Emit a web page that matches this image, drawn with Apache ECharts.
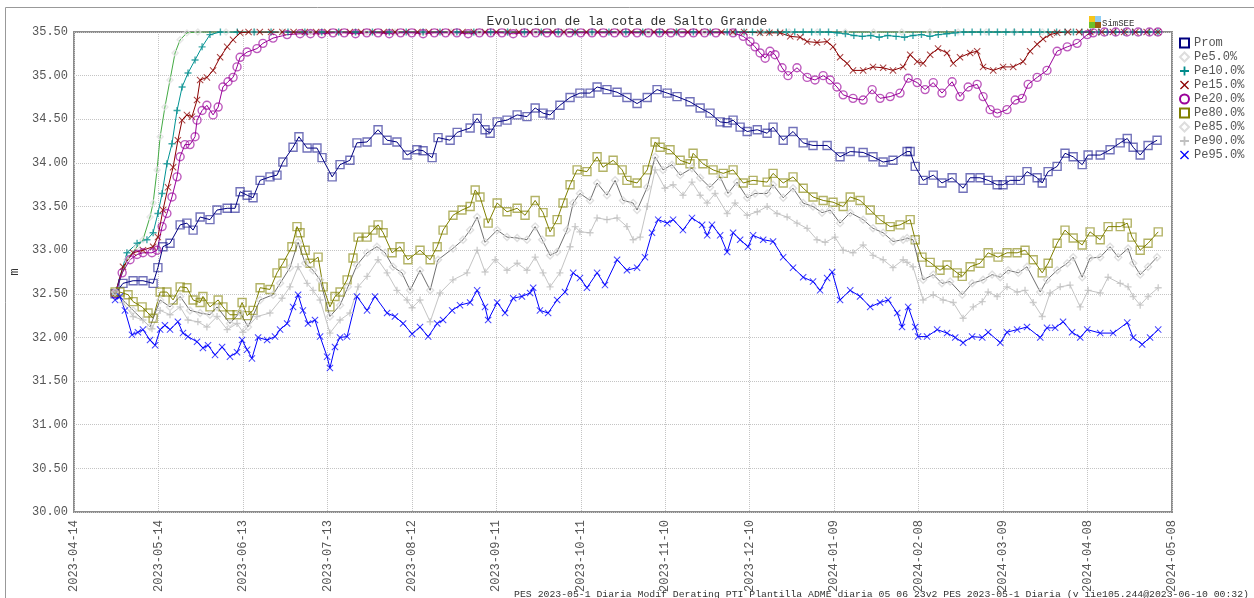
<!DOCTYPE html>
<html>
<head>
<meta charset="utf-8">
<title>Evolucion de la cota de Salto Grande</title>
<script src="https://cdn.jsdelivr.net/npm/echarts@6.0.0/dist/echarts.min.js"></script>
<style>
  html, body { margin: 0; padding: 0; background: #fff; }
  #chart { width: 1254px; height: 598px; }
</style>
</head>
<body>
<div id="chart"></div>
<script>
// x tick labels, one every 30 days from 2023-04-14 (x values are days after 2023-04-14)
const tickLabels = ['2023-04-14', '2023-05-14', '2023-06-13', '2023-07-13', '2023-08-12', '2023-09-11', '2023-10-11',
  '2023-11-10', '2023-12-10', '2024-01-09', '2024-02-08', '2024-03-09', '2024-04-08', '2024-05-08'];

// [day, level m]
const prom = [[14.6,32.50],[17.4,32.62],[21.0,32.65],[24.5,32.65],[28.1,32.62],[29.8,32.80],[31.6,33.04],[34.1,33.08],
  [37.7,33.29],[40.1,33.31],[42.3,33.23],[44.8,33.38],[48.3,33.35],[50.8,33.46],[54.4,33.48],[57.2,33.48],[59.0,33.67],
  [61.5,33.63],[63.6,33.60],[66.1,33.80],[69.6,33.84],[72.1,33.86],[74.2,34.01],[77.8,34.18],[79.9,34.30],[82.8,34.17],
  [86.3,34.17],[88.1,34.06],[91.7,33.84],[94.5,33.98],[98.0,34.03],[100.5,34.23],[104.1,34.24],[108.0,34.38],[111.2,34.26],
  [114.7,34.24],[118.3,34.09],[121.8,34.15],[124.0,34.14],[127.2,34.06],[129.3,34.29],[133.6,34.26],[136.1,34.35],
  [140.7,34.40],[143.2,34.51],[146.0,34.38],[147.8,34.34],[150.3,34.47],[153.8,34.49],[157.4,34.55],[160.9,34.53],
  [163.8,34.63],[166.6,34.57],[169.1,34.55],[172.6,34.66],[176.2,34.75],[179.7,34.80],[183.3,34.80],[185.8,34.87],
  [189.3,34.84],[192.9,34.81],[196.4,34.75],[200.0,34.68],[203.6,34.75],[207.1,34.84],[210.7,34.80],[214.2,34.76],
  [218.8,34.70],[222.4,34.63],[225.9,34.57],[229.5,34.47],[232.0,34.46],[234.1,34.49],[236.6,34.41],[239.1,34.36],
  [242.7,34.38],[246.2,34.34],[248.3,34.41],[251.9,34.26],[255.4,34.36],[259.0,34.23],[262.5,34.20],[267.5,34.20],
  [272.1,34.07],[275.7,34.13],[280.3,34.12],[283.8,34.07],[287.4,34.01],[290.9,34.03],[295.9,34.13],[297.0,34.13],
  [298.8,33.96],[301.6,33.80],[305.2,33.86],[308.3,33.77],[311.9,33.83],[315.8,33.71],[318.3,33.83],[321.8,33.83],
  [324.7,33.80],[327.9,33.75],[330.0,33.75],[332.5,33.80],[336.1,33.80],[338.5,33.90],[342.1,33.83],[343.9,33.77],
  [346.0,33.90],[349.2,33.96],[352.0,34.11],[354.9,34.07],[358.1,33.98],[360.2,34.09],[364.5,34.09],[368.0,34.15],
  [371.6,34.23],[374.1,34.28],[376.2,34.18],[378.7,34.09],[381.5,34.20],[384.7,34.26]];

const pe5 = [[14.6,32.50],[18.8,32.89],[22.4,33.04],[24.5,33.12],[27.0,33.38],[28.1,33.54],[29.5,33.92],[30.6,34.30],
  [32.3,34.64],[34.1,34.95],[35.9,35.26],[37.7,35.41],[40.1,35.49],[44,35.5],[54,35.5],[64,35.5],[74,35.5],[84,35.5],
  [94,35.5],[104,35.5],[114,35.5],[124,35.5],[134,35.5],[144,35.5],[154,35.5],[164,35.5],[174,35.5],[184,35.5],
  [194,35.5],[204,35.5],[214,35.5],[224,35.5],[234,35.5],[244,35.5],[254,35.5],[264,35.5],[274,35.5],[284,35.5],
  [294,35.5],[304,35.5],[314,35.5],[324,35.5],[334,35.5],[344,35.5],[354,35.5],[364,35.5],[374,35.5],[384,35.5]];

const pe10 = [[14.6,32.50],[18.8,32.97],[22.4,33.08],[25.9,33.12],[28.1,33.20],[29.8,33.42],[31.3,33.65],[33.0,33.99],
  [34.8,34.22],[36.6,34.60],[38.4,34.87],[40.5,35.03],[43.0,35.18],[45.5,35.33],[48.3,35.47],[52,35.5],[58,35.5],
  [64,35.5],[70,35.5],[76,35.5],[82,35.5],[88,35.5],[94,35.5],[100,35.5],[106,35.5],[112,35.5],[118,35.5],[124,35.5],
  [130,35.5],[136,35.5],[142,35.5],[148,35.5],[154,35.5],[160,35.5],[166,35.5],[172,35.5],[178,35.5],[184,35.5],
  [190,35.5],[196,35.5],[202,35.5],[208,35.5],[214,35.5],[220,35.5],[226,35.5],[232,35.5],[235,35.5],[238,35.5],
  [241,35.5],[244,35.5],[247,35.5],[250,35.5],[253,35.5],[256,35.5],[259,35.5],[262,35.5],[265,35.5],[268,35.5],
  [271,35.49],[274,35.48],[277,35.46],[280,35.45],[283,35.46],[286,35.44],[289,35.46],[292,35.45],[295,35.44],
  [298,35.46],[301,35.47],[304,35.45],[307,35.47],[310,35.48],[313,35.49],[316,35.5],[319,35.5],[322,35.5],[325,35.5],
  [328,35.5],[331,35.5],[334,35.5],[337,35.5],[340,35.5],[343,35.5],[346,35.5],[349,35.5],[352,35.5],[355,35.5],
  [358,35.5],[361,35.5],[364,35.5],[367,35.5],[370,35.5],[373,35.5],[376,35.5],[379,35.5],[382,35.5],[385,35.5]];

const pe15 = [[14.6,32.50],[17.4,32.81],[21.0,32.97],[24.5,33.00],[28.1,33.04],[29.8,33.15],[31.6,33.46],[33.4,33.72],
  [35.2,33.95],[36.9,34.26],[38.4,34.49],[40.1,34.55],[41.9,34.53],[43.7,34.72],[44.8,34.95],[47.2,34.98],[49.4,35.06],
  [51.9,35.21],[54.4,35.33],[56.5,35.41],[59.0,35.49],[62,35.5],[66,35.5],[70,35.5],[74,35.5],[78,35.5],[82,35.5],
  [86,35.5],[90,35.5],[94,35.5],[98,35.5],[102,35.5],[106,35.5],[110,35.5],[114,35.5],[118,35.5],[122,35.5],[126,35.5],
  [130,35.5],[134,35.5],[138,35.5],[142,35.5],[146,35.5],[150,35.5],[154,35.5],[158,35.5],[162,35.5],[166,35.5],
  [170,35.5],[174,35.5],[178,35.5],[182,35.5],[186,35.5],[190,35.5],[194,35.5],[198,35.5],[202,35.5],[206,35.5],
  [210,35.5],[214,35.5],[218,35.5],[222,35.5],[226,35.5],[230,35.5],[234,35.5],[238,35.5],[243.7,35.49],[247.0,35.49],
  [250.8,35.49],[254.4,35.45],[257.9,35.44],[260.4,35.39],[263.9,35.38],[267.5,35.39],[269.6,35.33],[272.1,35.21],
  [274.6,35.14],[276.7,35.06],[280.3,35.06],[283.8,35.10],[287.4,35.09],[290.9,35.06],[294.5,35.10],[297.0,35.24],
  [299.5,35.16],[301.6,35.14],[304.1,35.24],[306.9,35.31],[310.1,35.26],[312.3,35.14],[314.7,35.21],[318.3,35.26],
  [320.8,35.28],[322.9,35.10],[326.5,35.06],[330.0,35.10],[333.6,35.10],[337.1,35.16],[339.6,35.28],[342.1,35.36],
  [344.2,35.42],[346.7,35.47],[349.2,35.49],[353,35.5],[357,35.5],[361,35.5],[365,35.5],[369,35.5],[373,35.5],
  [377,35.5],[381,35.5],[385,35.5]];

const pe20 = [[14.6,32.50],[17.1,32.74],[19.9,32.89],[22.4,32.95],[24.5,32.97],[27.7,32.97],[29.5,33.00],[31.3,33.27],
  [33.0,33.42],[34.8,33.61],[36.6,33.84],[37.7,34.07],[39.4,34.21],[41.2,34.21],[43.0,34.30],[43.7,34.49],[45.5,34.60],
  [47.2,34.66],[49.4,34.55],[51.2,34.64],[52.9,34.87],[54.7,34.93],[56.5,34.98],[57.9,35.10],[59.0,35.21],[61.5,35.27],
  [65.0,35.31],[67.1,35.37],[70.7,35.43],[75.7,35.47],[80.3,35.48],[84,35.48],[88,35.48],[92.0,35.49],[96,35.49],
  [100,35.48],[104,35.49],[108,35.49],[112,35.48],[116,35.49],[120,35.49],[124,35.48],[128,35.49],[132,35.49],
  [136,35.49],[140,35.48],[144,35.49],[148,35.49],[152,35.49],[156,35.48],[160,35.49],[164,35.49],[168,35.49],
  [172,35.49],[176,35.49],[180,35.49],[184,35.49],[188,35.49],[192,35.49],[196,35.49],[200,35.49],[204,35.49],
  [208,35.49],[212,35.49],[216,35.49],[220,35.49],[224,35.49],[228,35.49],[234.1,35.49],[237.7,35.45],[240.1,35.39],
  [241.9,35.33],[243.7,35.26],[245.5,35.20],[247.2,35.28],[249.0,35.24],[251.5,35.09],[253.6,35.00],[256.8,35.09],
  [260.4,34.98],[263.2,34.95],[266.1,35.00],[268.6,34.95],[271.0,34.87],[273.2,34.78],[276.7,34.74],[280.3,34.72],
  [283.5,34.84],[286.3,34.74],[289.9,34.76],[293.4,34.80],[296.3,34.97],[299.5,34.92],[302.3,34.84],[305.2,34.92],
  [308.3,34.80],[311.9,34.93],[314.7,34.76],[317.6,34.87],[320.8,34.90],[322.9,34.76],[325.4,34.61],[327.9,34.57],
  [331.4,34.61],[334.3,34.72],[336.8,34.74],[338.9,34.90],[342.1,34.98],[345.6,35.06],[349.2,35.28],[352.8,35.33],
  [356.3,35.37],[359.9,35.47],[362.0,35.49],[366,35.5],[370,35.5],[374,35.5],[378,35.5],[382,35.5],[385,35.5]];

const pe80 = [[14.6,32.52],[16.3,32.52],[19.2,32.49],[21.0,32.41],[24.2,32.35],[26.3,32.28],[28.1,32.22],[30.6,32.52],
  [33.0,32.52],[35.2,32.43],[37.7,32.58],[40.1,32.57],[42.3,32.43],[44.8,32.40],[45.8,32.47],[48.3,32.35],[51.2,32.43],
  [52.9,32.35],[55.4,32.26],[57.9,32.26],[59.7,32.40],[61.5,32.25],[63.6,32.31],[66.1,32.57],[69.6,32.55],[72.1,32.74],
  [74.2,32.85],[77.4,33.04],[79.2,33.27],[80.3,33.20],[82.1,33.00],[83.8,32.85],[86.7,32.92],[88.5,32.58],[90.9,32.35],
  [92.7,32.47],[94.5,32.52],[97.0,32.66],[99.1,32.91],[100.9,33.15],[104.1,33.15],[106.2,33.23],[108.0,33.29],
  [109.8,33.20],[113.0,32.97],[115.8,33.04],[118.6,32.89],[122.9,33.00],[126.5,32.89],[129.0,33.04],[131.1,33.23],
  [134.6,33.40],[137.8,33.46],[140.7,33.50],[142.5,33.69],[144.2,33.61],[147.1,33.31],[150.3,33.54],[153.8,33.44],
  [157.4,33.48],[160.2,33.40],[163.8,33.57],[166.6,33.43],[169.1,33.21],[171.6,33.35],[173.7,33.54],[176.2,33.75],
  [178.7,33.92],[182.2,33.90],[185.8,34.07],[187.9,33.95],[191.5,34.03],[194.7,33.92],[196.4,33.80],[200.0,33.77],
  [203.6,33.92],[206.4,34.24],[208.2,34.18],[211.7,34.15],[215.3,34.03],[218.8,33.99],[219.9,34.11],[223.4,33.99],
  [227.0,33.92],[230.6,33.88],[234.1,33.92],[237.7,33.77],[241.2,33.80],[246.2,33.78],[248.3,33.88],[251.9,33.77],
  [255.4,33.84],[259.0,33.71],[262.5,33.61],[266.1,33.57],[269.6,33.55],[273.2,33.50],[275.7,33.61],[279.2,33.57],
  [282.8,33.46],[286.3,33.35],[289.9,33.27],[293.4,33.29],[297.0,33.35],[298.8,33.12],[301.2,32.92],[304.1,32.86],
  [307.6,32.77],[310.1,32.83],[313.7,32.74],[315.5,32.70],[318.3,32.81],[321.8,32.85],[324.7,32.97],[328.2,32.92],
  [331.4,32.97],[335.0,32.97],[337.8,33.00],[340.7,32.89],[343.9,32.74],[346.0,32.85],[349.2,33.08],[352.0,33.23],
  [354.9,33.14],[358.1,33.06],[360.9,33.21],[364.5,33.12],[367.3,33.27],[371.6,33.27],[374.1,33.31],[375.8,33.15],
  [378.7,33.00],[381.5,33.08],[385.1,33.21]];

const pe85 = [[14.6,32.52],[21.0,32.31],[27.0,32.12],[30.6,32.43],[34.1,32.35],[37.7,32.47],[41.2,32.31],[44.8,32.28],
  [48.3,32.26],[50.8,32.35],[55.4,32.16],[59.0,32.29],[61.8,32.12],[66.1,32.43],[70.7,32.49],[73.2,32.62],[76.7,32.80],
  [79.6,33.09],[82.1,32.85],[84.9,32.77],[87.4,32.66],[90.9,32.24],[94.5,32.37],[97.3,32.58],[100.5,32.83],[104.1,32.97],
  [107.6,33.04],[110.5,32.97],[113.3,32.81],[116.5,32.74],[119.4,32.54],[122.9,32.77],[126.5,32.54],[129.3,32.89],
  [134.6,33.02],[138.2,33.12],[140.7,33.23],[143.2,33.38],[146.0,33.09],[150.3,33.23],[153.8,33.15],[157.4,33.14],
  [160.9,33.12],[163.8,33.27],[166.3,33.12],[169.1,32.94],[171.6,32.98],[175.1,33.23],[177.3,33.54],[179.7,33.65],
  [183.3,33.57],[185.8,33.77],[189.3,33.63],[192.2,33.80],[195.0,33.57],[198.6,33.54],[200.0,33.46],[203.6,33.72],
  [206.4,34.07],[209.2,33.92],[212.4,33.98],[215.3,33.86],[219.5,33.94],[222.4,33.83],[225.9,33.72],[229.5,33.84],
  [232.3,33.65],[235.5,33.78],[239.1,33.60],[241.9,33.65],[246.2,33.65],[248.3,33.75],[251.9,33.60],[255.4,33.71],
  [259.0,33.54],[262.5,33.50],[265.7,33.43],[268.6,33.46],[272.1,33.31],[275.7,33.43],[280.3,33.35],[283.8,33.25],
  [287.4,33.20],[290.9,33.10],[294.5,33.12],[295.9,33.14],[298.0,33.12],[301.6,32.66],[305.2,32.72],[308.3,32.62],
  [311.2,32.64],[315.5,32.49],[319.0,32.62],[322.9,32.66],[326.1,32.72],[329.0,32.69],[331.8,32.77],[335.4,32.74],
  [338.5,32.81],[343.2,32.52],[345.6,32.66],[349.2,32.77],[352.8,32.85],[354.9,32.92],[358.1,32.69],[360.9,32.91],
  [364.5,32.92],[368.0,33.04],[370.9,32.92],[374.4,33.02],[376.2,32.85],[378.7,32.72],[381.5,32.81],[384.7,32.92]];

const pe90 = [[14.6,32.52],[17.4,32.40],[21.0,32.24],[24.5,32.20],[27.7,32.10],[30.6,32.31],[34.1,32.26],[37.7,32.35],
  [40.5,32.20],[44.0,32.18],[47.2,32.12],[50.8,32.24],[54.4,32.09],[57.9,32.16],[60.0,32.06],[65.0,32.24],[69.6,32.28],
  [73.9,32.45],[76.7,32.58],[79.6,32.81],[82.8,32.62],[84.9,32.54],[87.4,32.43],[90.9,32.05],[94.5,32.20],[98.0,32.28],
  [100.9,32.58],[104.1,32.70],[108.0,32.89],[111.2,32.74],[114.7,32.54],[118.3,32.43],[120.1,32.34],[122.9,32.43],
  [126.5,32.18],[130.0,32.51],[134.6,32.66],[139.6,32.74],[143.2,33.00],[146.0,32.75],[149.6,32.89],[153.8,32.77],
  [157.4,32.85],[160.9,32.77],[163.8,32.92],[166.6,32.74],[169.1,32.58],[172.6,32.74],[176.2,33.04],[178.0,33.27],
  [179.7,33.21],[183.3,33.20],[185.8,33.37],[189.3,33.35],[192.9,33.37],[196.4,33.27],[198.6,33.12],[201.1,33.15],
  [203.6,33.50],[206.4,33.92],[209.9,33.71],[212.8,33.75],[216.3,33.63],[219.5,33.78],[222.4,33.63],[224.9,33.54],
  [227.7,33.65],[232.0,33.42],[234.8,33.54],[239.1,33.40],[242.7,33.44],[246.2,33.50],[249.7,33.42],[253.3,33.38],
  [256.8,33.31],[260.4,33.25],[263.9,33.12],[266.8,33.09],[270.3,33.15],[273.2,33.00],[276.7,32.97],[280.3,33.06],
  [283.8,32.94],[287.4,32.89],[290.9,32.80],[294.5,32.89],[295.9,32.86],[298.0,32.81],[301.6,32.43],[305.2,32.49],
  [308.7,32.43],[312.3,32.40],[315.8,32.22],[319.4,32.35],[322.6,32.41],[324.7,32.52],[327.9,32.47],[331.4,32.58],
  [335.0,32.52],[337.8,32.54],[340.7,32.40],[343.9,32.24],[346.7,32.51],[350.3,32.58],[353.8,32.60],[357.4,32.35],
  [360.2,32.54],[364.5,32.51],[367.3,32.69],[371.6,32.62],[374.4,32.58],[376.2,32.47],[378.7,32.37],[381.5,32.47],
  [385.1,32.57]];

const pe95 = [[14.6,32.43],[16.3,32.47],[18.1,32.31],[20.6,32.03],[22.7,32.06],[24.5,32.09],[27.0,31.97],[28.8,31.91],
  [30.6,32.09],[32.3,32.14],[34.1,32.09],[36.9,32.18],[38.7,32.05],[40.5,32.01],[43.7,31.95],[45.8,31.88],[47.6,31.91],
  [50.1,31.80],[52.6,31.89],[55.4,31.78],[57.9,31.83],[59.7,31.97],[61.5,31.86],[63.2,31.76],[65.4,32.00],[68.6,31.97],
  [71.4,32.01],[73.2,32.09],[75.7,32.16],[77.8,32.35],[79.6,32.49],[81.3,32.31],[83.1,32.16],[85.6,32.20],[87.4,32.01],
  [89.9,31.78],[90.9,31.65],[92.7,31.89],[94.5,32.00],[97.0,32.01],[100.5,32.47],[104.1,32.31],[106.9,32.47],
  [111.2,32.28],[114.0,32.24],[116.9,32.16],[120.1,32.04],[122.9,32.12],[125.8,32.01],[129.0,32.16],[131.1,32.20],
  [134.3,32.31],[137.1,32.37],[140.7,32.40],[143.2,32.54],[146.0,32.35],[147.1,32.20],[150.3,32.40],[153.1,32.28],
  [156.0,32.45],[159.1,32.47],[162.0,32.51],[163.1,32.57],[165.5,32.31],[168.4,32.28],[171.6,32.43],[174.4,32.52],
  [177.3,32.74],[179.7,32.68],[182.2,32.57],[185.8,32.74],[188.6,32.60],[192.9,32.89],[196.4,32.77],[200.0,32.80],
  [202.8,32.92],[205.3,33.20],[207.5,33.35],[210.7,33.31],[212.8,33.35],[216.3,33.23],[219.5,33.37],[223.1,33.29],
  [224.9,33.17],[226.6,33.29],[229.5,33.17],[232.0,32.98],[234.1,33.20],[236.6,33.12],[239.4,33.04],[241.2,33.17],
  [244.8,33.12],[248.3,33.10],[251.9,32.92],[255.4,32.80],[259.0,32.69],[262.5,32.64],[265.0,32.54],[267.5,32.68],
  [269.3,32.75],[272.1,32.43],[275.7,32.54],[279.2,32.47],[282.8,32.35],[286.3,32.40],[289.2,32.43],[292.4,32.28],
  [294.1,32.12],[296.3,32.35],[298.8,32.12],[299.8,32.01],[303.0,32.01],[306.6,32.09],[310.1,32.05],[313.0,32.00],
  [315.8,31.94],[319.0,32.01],[322.6,32.00],[324.7,32.06],[329.0,31.94],[331.4,32.06],[335.0,32.09],[338.5,32.12],
  [343.2,32.00],[345.6,32.11],[348.5,32.11],[351.3,32.18],[354.5,32.06],[357.4,32.00],[359.9,32.09],[364.5,32.05],
  [369.1,32.05],[374.1,32.17],[376.2,32.00],[379.4,31.92],[382.2,32.00],[385.1,32.09]];

const mono = 'Liberation Mono, DejaVu Sans Mono, monospace';
const plusPath = 'path://M4,0H6V4H10V6H6V10H4V6H0V4H4Z';
const crossPath = 'path://M1,0L5,4L9,0L10,1L6,5L10,9L9,10L5,6L1,10L0,9L4,5L0,1Z';

// name, data, line color, symbol, symbol color, symbol size, hollow?, legend colour
const defs = [
  ['Prom', prom, '#000080', 'rect', 'rgba(20,20,140,0.6)', 8, true, '#000080'],
  ['Pe5.0%', pe5, '#44aa44', 'diamond', 'rgba(225,225,225,0.8)', 6, true, '#dddddd'],
  ['Pe10.0%', pe10, '#009393', plusPath, 'rgba(0,140,140,0.75)', 7, false, '#008b8b'],
  ['Pe15.0%', pe15, '#8b0000', crossPath, 'rgba(139,0,0,0.75)', 7, false, '#8b0000'],
  ['Pe20.0%', pe20, '#990099', 'circle', 'rgba(153,0,153,0.65)', 8, true, '#990099'],
  ['Pe80.0%', pe80, '#808000', 'rect', 'rgba(128,128,0,0.6)', 8, true, '#808000'],
  ['Pe85.0%', pe85, '#707070', 'diamond', 'rgba(215,215,215,0.8)', 7, true, '#dddddd'],
  ['Pe90.0%', pe90, '#c4c4c4', plusPath, 'rgba(190,190,190,0.75)', 7, false, '#c0c0c0'],
  ['Pe95.0%', pe95, '#0000ff', crossPath, 'rgba(0,0,255,0.75)', 7, false, '#0000ff'],
];

const series = defs.map(([name, data, lineColor, symbol, symColor, size, hollow]) => ({
  name: name,
  type: 'line',
  data: data,
  symbol: symbol,
  symbolSize: size,
  showAllSymbol: true,
  lineStyle: { color: lineColor, width: 1 },
  itemStyle: hollow
    ? { color: 'rgba(0,0,0,0)', borderColor: symColor, borderWidth: 1.4 }
    : { color: symColor, borderWidth: 0 },
  emphasis: { disabled: true },
}));

const chart = echarts.init(document.getElementById('chart'));
chart.setOption({
  animation: false,
  title: {
    text: 'Evolucion de la cota de Salto Grande',
    left: 622, top: 10, textAlign: 'center',
    textStyle: { fontFamily: mono, fontSize: 13, fontWeight: 'normal', color: '#333' },
  },
  legend: {
    orient: 'vertical', left: 1179, top: 36, padding: 0,
    itemWidth: 9, itemHeight: 9, itemGap: 0,
    textStyle: { fontFamily: mono, fontSize: 12, lineHeight: 14, color: '#555' },
    data: defs.map(d => {
      const icon = d[3], c = d[7];
      return {
        name: d[0], icon: icon,
        itemStyle: d[6] ? { color: '#fff', borderColor: c, borderWidth: 2 } : { color: c, borderWidth: 0 },
      };
    }),
  },
  grid: {
    left: 74, right: 82, top: 32, bottom: 86, outerBoundsMode: 'none',
    show: true, borderColor: '#8c8c8c', borderWidth: 2, backgroundColor: '#fff',
  },
  xAxis: {
    type: 'value', min: 0, max: 390, interval: 30,
    axisLine: { show: false }, axisTick: { show: false },
    axisLabel: {
      rotate: 90, margin: 8, fontFamily: mono, fontSize: 12, color: '#555',
      formatter: v => tickLabels[Math.round(v / 30)],
    },
    splitLine: { show: true, lineStyle: { color: '#c4c4c4', type: [1, 1], width: 1 } },
  },
  yAxis: {
    type: 'value', min: 30, max: 35.5, interval: 0.5,
    name: 'm', nameLocation: 'middle', nameGap: 51, nameRotate: 90,
    nameTextStyle: { fontFamily: mono, fontSize: 12, color: '#333' },
    axisLine: { show: false }, axisTick: { show: false },
    axisLabel: { margin: 6, fontFamily: mono, fontSize: 12, color: '#555', formatter: v => v.toFixed(2) },
    splitLine: { show: true, lineStyle: { color: '#c4c4c4', type: [1, 1], width: 1 } },
  },
  graphic: [
    // outer frame (left and top edges)
    { type: 'polyline', shape: { points: [[5.5, 598], [5.5, 7.5], [1254, 7.5]] }, style: { stroke: '#999', fill: null, lineWidth: 1 }, silent: true },
    // SimSEE logo
    { type: 'rect', left: 1089, top: 16, shape: { width: 6, height: 6 }, style: { fill: '#f6c51b' } },
    { type: 'rect', left: 1095, top: 16, shape: { width: 6, height: 6 }, style: { fill: '#8fcdf2' } },
    { type: 'rect', left: 1089, top: 22, shape: { width: 6, height: 6 }, style: { fill: '#6cbf2a' } },
    { type: 'rect', left: 1095, top: 22, shape: { width: 6, height: 6 }, style: { fill: '#9a5d12' } },
    { type: 'text', left: 1102, top: 19, style: { text: 'SimSEE', fontFamily: mono, fontSize: 9, fill: '#333' } },
    // footer
    { type: 'text', right: 5, bottom: -1, style: {
      text: 'PES 2023-05-1 Diaria Modif Derating PTI Plantilla ADME diaria 05 06 23v2 PES 2023-05-1 Diaria (v iie105.244@2023-06-10 00:32)',
      fontFamily: mono, fontSize: 9.8, fill: '#333' } },
  ],
  series: series,
});
</script>
</body>
</html>
